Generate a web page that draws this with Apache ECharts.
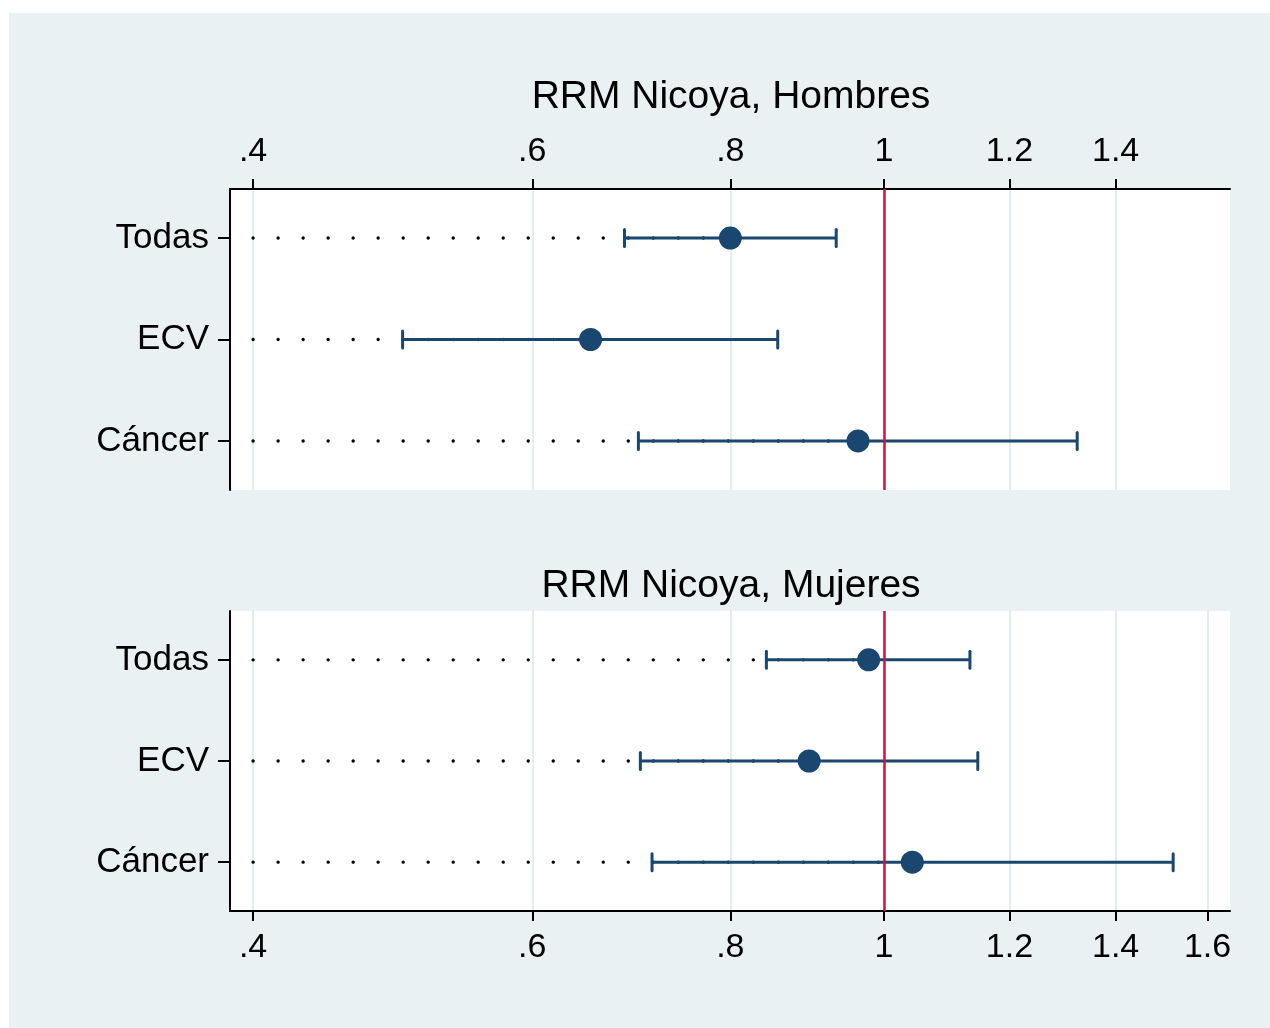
<!DOCTYPE html>
<html>
<head>
<meta charset="utf-8">
<script src="https://cdn.jsdelivr.net/npm/echarts@6/dist/echarts.min.js"></script>
<style>html,body{margin:0;padding:0;background:#fff;}#c{width:1270px;height:1028px;}</style>
</head>
<body>
<div id="c"></div>
<script>
const categories = ['Todas', 'ECV', 'Cáncer'];
const menTitle = 'RRM Nicoya, Hombres';
const womenTitle = 'RRM Nicoya, Mujeres';
const menEst = [0.800, 0.653, 0.963];
const menLo  = [0.686, 0.497, 0.700];
const menHi  = [0.933, 0.857, 1.324];
const womEst = [0.978, 0.897, 1.042];
const womLo  = [0.843, 0.702, 0.714];
const womHi  = [1.133, 1.146, 1.522];
const ticksTop = [0.4, 0.6, 0.8, 1, 1.2, 1.4];
const ticksBottom = [0.4, 0.6, 0.8, 1, 1.2, 1.4, 1.6];
const xMin = 0.3868, xMax = 1.653;
const dotStart = 0.4;
const refValue = 1;

const FONT = "'Liberation Sans', Arial, Helvetica, sans-serif";
const NAVY = '#1a476f';
const RED = '#c8173f';
const L = Math.log;

function fmt(v) {
  let r = Math.round(Math.exp(v) * 10) / 10;
  let s = String(r);
  if (s.startsWith('0')) s = s.slice(1);
  return s;
}

function xAxisCfg(gridIndex, position, ticks, margin) {
  const vals = ticks.map(L);
  return {
    type: 'value', gridIndex, position,
    min: L(xMin), max: L(xMax),
    axisLine: { show: true, onZero: false, lineStyle: { color: '#000', width: 2 } },
    axisTick: { show: true, length: 10, customValues: vals, lineStyle: { color: '#000', width: 2 } },
    axisLabel: { customValues: vals, formatter: fmt, fontSize: 34, color: '#000', fontFamily: FONT, margin },
    splitLine: { show: true, lineStyle: { color: '#e3ecee', width: 2 } }
  };
}
function yAxisCfg(gridIndex) {
  const idx = categories.map((c, i) => i);
  return {
    type: 'value', gridIndex, inverse: true,
    min: -0.483, max: categories.length - 1 + 0.483,
    axisLine: { show: true, onZero: false, lineStyle: { color: '#000', width: 2 } },
    axisTick: { show: true, length: 12, customValues: idx, lineStyle: { color: '#000', width: 2 } },
    axisLabel: { customValues: idx, formatter: v => categories[Math.round(v)], fontSize: 35, color: '#000', fontFamily: FONT, margin: 21 },
    splitLine: { show: false }
  };
}

function dotSeries(idx, est) {
  return {
    type: 'custom', xAxisIndex: idx, yAxisIndex: idx, z: 2,
    data: est.map((e, i) => [L(dotStart), L(e), i]),
    encode: { x: [0, 1], y: 2 },
    renderItem(params, api) {
      const a = api.coord([api.value(0), api.value(2)]);
      const b = api.coord([api.value(1), api.value(2)]);
      return { type: 'line', shape: { x1: a[0], y1: a[1], x2: b[0], y2: b[1] },
        style: { stroke: '#000', lineWidth: 3.4, lineCap: 'round', lineDash: [0.01, 25] } };
    }
  };
}
function ciSeries(idx, lo, hi) {
  return {
    type: 'custom', xAxisIndex: idx, yAxisIndex: idx, z: 3,
    data: lo.map((v, i) => [L(v), L(hi[i]), i]),
    encode: { x: [0, 1], y: 2 },
    renderItem(params, api) {
      const a = api.coord([api.value(0), api.value(2)]);
      const b = api.coord([api.value(1), api.value(2)]);
      const h = 8.5;
      const st = { stroke: NAVY, lineWidth: 3 };
      return { type: 'group', children: [
        { type: 'line', shape: { x1: a[0], y1: a[1], x2: b[0], y2: b[1] }, style: st },
        { type: 'line', shape: { x1: a[0], y1: a[1] - h, x2: a[0], y2: a[1] + h }, style: Object.assign({ lineCap: 'round' }, st) },
        { type: 'line', shape: { x1: b[0], y1: b[1] - h, x2: b[0], y2: b[1] + h }, style: Object.assign({ lineCap: 'round' }, st) }
      ] };
    }
  };
}
function pointSeries(idx, est) {
  return {
    type: 'scatter', xAxisIndex: idx, yAxisIndex: idx, z: 5,
    data: est.map((e, i) => [L(e), i]),
    symbol: 'circle', symbolSize: 23,
    itemStyle: { color: NAVY, opacity: 1 },
    markLine: {
      silent: true, symbol: 'none', z: 4,
      label: { show: false },
      lineStyle: { color: RED, width: 2.5, type: 'solid' },
      data: [{ xAxis: L(refValue) }]
    }
  };
}

const chart = echarts.init(document.getElementById('c'), null, { renderer: 'canvas' });
chart.setOption({
  animation: false,
  backgroundColor: '#ffffff',
  graphic: [{ type: 'rect', z: -10, shape: { x: 9, y: 13, width: 1261, height: 1015 }, style: { fill: '#eaf1f3' } }],
  title: [
    { text: menTitle, left: 726, top: 73, textAlign: 'center', textStyle: { fontSize: 39, fontWeight: 'normal', color: '#000', fontFamily: FONT } },
    { text: womenTitle, left: 726, top: 562, textAlign: 'center', textStyle: { fontSize: 39, fontWeight: 'normal', color: '#000', fontFamily: FONT } }
  ],
  grid: [
    { left: 230, top: 189, width: 1000, height: 301, show: true, backgroundColor: '#fff', borderWidth: 0 },
    { left: 230, top: 611, width: 1000, height: 300, show: true, backgroundColor: '#fff', borderWidth: 0 }
  ],
  xAxis: [xAxisCfg(0, 'top', ticksTop, 20), xAxisCfg(1, 'bottom', ticksBottom, 20)],
  yAxis: [yAxisCfg(0), yAxisCfg(1)],
  series: [
    dotSeries(0, menEst), ciSeries(0, menLo, menHi), pointSeries(0, menEst),
    dotSeries(1, womEst), ciSeries(1, womLo, womHi), pointSeries(1, womEst)
  ]
});
</script>
</body>
</html>
